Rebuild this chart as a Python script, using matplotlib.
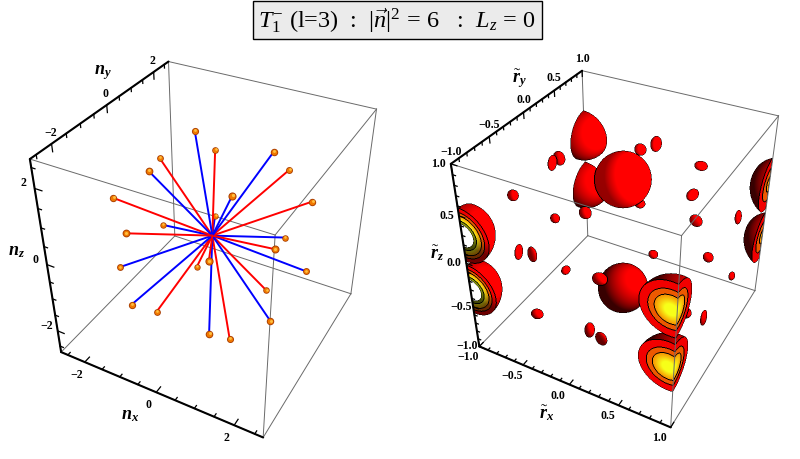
import numpy as np, matplotlib
matplotlib.use('Agg')
import matplotlib.pyplot as plt
from matplotlib.patches import Rectangle
plt.rcParams.update({'font.family':'Liberation Serif','mathtext.fontset':'custom','mathtext.rm':'Liberation Serif',
 'mathtext.it':'Liberation Serif:italic','mathtext.bf':'Liberation Serif:bold','mathtext.bfit':'Liberation Serif:italic:bold'})

# ---- left panel data: momentum vectors
nx=[1,1,-1,-1, 2,2,-2,-2,1,1,-1,-1, 2,2,-2,-2,1,1,-1,-1, 1,1,-1,-1]
ny=[1,-1,1,-1, 1,-1,1,-1,2,-2,2,-2, 1,-1,1,-1,2,-2,2,-2, 1,-1,1,-1]
nz=[2,2,2,2, 1,1,1,1,1,1,1,1, -1,-1,-1,-1,-1,-1,-1,-1, -2,-2,-2,-2]
ray_colors=['blue']*4+['red']*8+['blue']*8+['red']*4
# ---- right panel data: lobes (centre, semi-axes)
cx=[-.65,-.65,-.21,.05,.53,.55,.11,-.71,-.52,-.32,.65,.87,.73,.87,.31,-.71,-.64,-.43,.09,-.53,.02,.15,.85,.76,
    -1,-1,.95,.95,-1,-1,1.14,1.14,0,0]
cy=[-.11,0,.73,.53,.45,.25,.11,-.63,-.31,-.12,.12,.59,.28,.59,0,-.63,-.53,-.32,-.58,-.68,-.66,-.68,-.03,-.24,
    -1,-1,-1,-1,1,1,1,1,0,0]
cz=[.64,.63,.47,.70,.65,.47,.32,.58,.21,.22,.31,.13,-.17,-.56,-.10,-.02,-.09,-.34,-.05,-.64,-.61,-.64,-.61,-.42,
    .3,-.3,.3,-.3,.3,-.3,.3,-.3,.60,-.62]
ax_=[.03,.06,.06,.05,.06,.05,.05,.05,.045,.06,.06,.03,.05,.03,.045,.025,.05,.04,.07,.06,.045,.06,.025,.05,
    .28,.28,.27,.27,.27,.27,.31,.31,.247,.24]
ay_=[.06,.04,.05,.06,.05,.075,.045,.045,.04,.05,.03,.04,.04,.04,.04,.055,.025,.05,.055,.05,.05,.025,.055,.045,
    .28,.28,.27,.27,.27,.27,.31,.31,.247,.24]
az_=[.075,.07,.06,.075,.04,.045,.04,.05,.045,.06,.06,.075,.05,.045,.04,.08,.085,.04,.055,.045,.08,.075,.085,.05,
    .28,.28,.27,.27,.27,.27,.31,.31,.247,.24]
hollow=[0]*24+[.42,.42]+[0]*8
lift=[.25]*24+[0,0,-.3,-.3,0,0,-.1,-.1,.3,0]
blobs=np.c_[cx,cy,cz,ax_,ay_,az_,hollow,lift].astype(float)

CUBE=np.array([[-1,-1,1],[1,-1,1],[-1,1,1],[1,1,1],[-1,-1,-1],[1,-1,-1],[-1,1,-1],[1,1,-1]],float)
PIX_L=np.array([[30,160],[275,236],[168.3,62.7],[376.7,110],[61,353.3],[263.3,438.3],[175,236.7],[350.7,295]])
PIX_R=np.array([[450.7,165],[681.7,236.7],[582.3,71.7],[778.3,116.7],[479.3,347.3],[670.7,428.3],[587.7,236.7],[755,291.7]])
R_L=2.7; R_R=1.0
def camera(c,p):
    A=[]
    for (x,y,z),(u,v) in zip(c,p):
        A.append([x,y,z,1,0,0,0,0,-u*x,-u*y,-u*z,-u]); A.append([0,0,0,0,x,y,z,1,-v*x,-v*y,-v*z,-v])
    P=np.linalg.svd(np.array(A))[2][-1].reshape(3,4)
    if P[2]@np.array([0,0,0,1])<0: P=-P
    return P
PL=camera(CUBE*R_L,PIX_L); PR=camera(CUBE*R_R,PIX_R)
def proj(P,q):
    q=np.atleast_2d(np.asarray(q,float)); h=np.c_[q,np.ones(len(q))]@P.T
    return h[:,0]/h[:,2],h[:,1]/h[:,2],h[:,2]
Mi=np.linalg.inv(PR[:,:3]); O=-Mi@PR[:,3]
def ray(u,v):
    D=np.stack([u,v,np.ones_like(u)],-1)@Mi.T
    D=D/np.linalg.norm(D,axis=-1,keepdims=True)
    if D.reshape(-1,3).mean(0)@(-O)<0: D=-D
    with np.errstate(divide='ignore',invalid='ignore'):
        t1=(-1-O)/D; t2=(1-O)/D
    return D,np.minimum(t1,t2).max(-1),np.maximum(t1,t2).min(-1)
# render the lobes, clipped by the box
SS=2
X0,X1,Y0,Y1=430,800,50,440
us,vs=np.meshgrid(X0+(np.arange((X1-X0)*SS)+.5)/SS,Y0+(np.arange((Y1-Y0)*SS)+.5)/SS)
D,tn,tf=ray(us,vs)
best=np.full(us.shape,np.inf);bi=np.full(us.shape,-1);bc=np.zeros(us.shape,bool)
inbox=tf>tn
for i,b in enumerate(blobs):
    c=b[:3];r=b[3:6]
    pc=(O-c)/r;d=D/r
    A=(d*d).sum(-1);B=(pc*d).sum(-1);C=(pc*pc).sum()-1
    disc=B*B-A*C
    sq=np.sqrt(np.maximum(disc,0))
    t0=(-B-sq)/A;t1=(-B+sq)/A
    te=np.maximum(t0,tn)
    ok=inbox&(disc>0)&(te<np.minimum(t1,tf))
    cut=t0<tn
    if b[6]>0:
        rho=np.linalg.norm(pc+d*te[...,None],axis=-1)
        ok&=~(cut&(rho<b[6]))
    up=ok&(te<best)
    best[up]=te[up];bi[up]=i;bc[up]=cut[up]
rgb=np.ones(us.shape+(3,))
hit=bi>=0
P3=O+D*np.where(hit,best,0)[...,None]
ci=blobs[np.maximum(bi,0)]
nrm=(P3-ci[...,:3])/ci[...,3:6]**2
nrm/=np.maximum(np.linalg.norm(nrm,axis=-1,keepdims=True),1e-9)
LP=np.array([2.2,-.3,1.8])
Lv=LP-P3;Lv/=np.linalg.norm(Lv,axis=-1,keepdims=True)
diff=np.clip((nrm*Lv).sum(-1),0,1)
val=np.clip(.18+.95*diff+.12*(P3[...,2]+.3)+ci[...,7],.22,1)
rgb[...,0]=val;rgb[...,1]=0;rgb[...,2]=0
h=ci[...,6]
rho=(np.linalg.norm((P3-ci[...,:3])/ci[...,3:6],axis=-1)-h)/(1-h)
fac=np.clip(.7+.9*(P3[...,2]-ci[...,2])/ci[...,5]+.6*(P3[...,0]+1),.45,1)[...,None]
cutc=np.zeros(us.shape+(3,))
inner=(h>0)&(rho<.2)
band=np.where(rho>.72,1,np.where(rho>.52,2,np.where(inner,4,3)))
cutc[band==1]=[.95,0,0];cutc[band==2]=[.93,.35,0]
g=np.clip((.52-rho)/.32,0,1)
c3=np.stack([np.full(g.shape,.97),.55+.45*g,.1*g],-1)
cutc[band==3]=c3[band==3]
cutc[band==4]=[.55,.6,.05]
cutc=cutc*fac
rgb[bc]=cutc[bc]
idn=np.where(hit,bi*5+np.where(bc,band,0),-1)
e=np.zeros(us.shape,bool)
dx=idn[:,1:]!=idn[:,:-1];dy=idn[1:,:]!=idn[:-1,:]
e[:,1:]|=dx;e[:,:-1]|=dx;e[1:,:]|=dy;e[:-1,:]|=dy
e&=hit
rgb[e]=0
alpha=hit.astype(float)
pm=np.dstack([rgb*alpha[...,None],alpha])
H,W=pm.shape[:2]
pm=pm.reshape(H//SS,SS,W//SS,SS,4).mean((1,3))
a=pm[...,3:];img=np.dstack([pm[...,:3]/np.maximum(a,1e-6),a])

fig=plt.figure(figsize=(8,4.6),dpi=100)
ax=fig.add_axes([0,0,1,1]);ax.axis('off')
EDGES=[(0,1),(2,3),(0,2),(1,3),(4,5),(0,4),(1,5),(3,7),(5,7)]
BACK=[(6,7),(4,6),(2,6)]
GR='#6a6a6a'
for P,R in ((PL,R_L),(PR,R_R)):
    for a_,b_ in BACK:
        x,y,_=proj(P,CUBE[[a_,b_]]*R);ax.plot(x,y,color=GR,lw=.7,zorder=1)
    for a_,b_ in EDGES:
        x,y,_=proj(P,CUBE[[a_,b_]]*R);ax.plot(x,y,color=GR,lw=.7,zorder=6)
ax.imshow(img,extent=(X0,X1,Y1,Y0),zorder=3,interpolation='nearest')
ax.set_xlim(0,800);ax.set_ylim(460,0)
pts=np.c_[nx,ny,nz].astype(float)
_,_,w=proj(PL,pts)
w0=np.median(w)
order=np.argsort(-w)
for k,i in enumerate(order):
    x,y,_=proj(PL,[[0,0,0],pts[i]])
    ax.plot(x,y,color=ray_colors[i],lw=1.4,zorder=10+k*.01)
    s=(w0/w[i])**2
    ax.scatter(x[1],y[1],s=26*s,color='#a83c00',zorder=10+k*.01+.002,lw=0)
    ax.scatter(x[1],y[1],s=15*s,color='#f07800',zorder=10+k*.01+.004,lw=0)
    ax.scatter(x[1]+.6,y[1]-.6,s=4*s,color='#ffc040',zorder=10+k*.01+.006,lw=0)
def axes3d(P,R,minor,major,labs,off,ml,mj):
    ends=[([-R,-R,-R],[R,-R,-R]),([-R,-R,R],[-R,R,R]),([-R,-R,-R],[-R,-R,R])]
    tdir=[np.array([0,1,0.]),np.array([0,0,-1.]),np.array([1,0,0.])]
    for d,(a_,b_) in enumerate(ends):
        x,y,_=proj(P,[a_,b_]);ax.plot(x,y,'k',lw=1.5,zorder=20,solid_capstyle='round')
        for t in minor:
            q=np.array(a_,float);q[d]=t
            L=(mj if np.isclose(np.asarray(major),t).any() else ml)*R
            x,y,_=proj(P,[q,q+tdir[d]*L]);ax.plot(x,y,'k',lw=.9,zorder=20)
        for t,lb in zip(major,labs):
            q=np.array(a_,float);q[d]=t
            x,y,_=proj(P,[q]);ax.text(x[0]+off[d][0],y[0]+off[d][1],lb,fontsize=8.5,fontweight='bold',ha='center',va='center',zorder=21)
axes3d(PL,R_L,np.arange(-2.5,2.6,.5),[-2,0,2],['\u22122','0','2'],[(-8,12),(-1,-12),(-11,-6)],.035,.07)
axes3d(PR,R_R,np.arange(-1,1.01,.1),[-1,-.5,0,.5,1],['\u22121.0','\u22120.5','0.0','0.5','1.0'],[(-11,10),(0,-13),(-12,-1)],.03,.06)
for (x,y,t) in [(130,416,r'$\mathbfit{n}_{\mathbfit{x}}$'),(103,73,r'$\mathbfit{n}_{\mathbfit{y}}$'),(17,252,r'$\mathbfit{n}_{\mathbfit{z}}$'),
 (547,413,r'$\tilde{\mathbfit{r}}_{\mathbfit{x}}$'),(519,79,r'$\tilde{\mathbfit{r}}_{\mathbfit{y}}$'),(437,253,r'$\tilde{\mathbfit{r}}_{\mathbfit{z}}$')]:
    ax.text(x,y,t,fontsize=13,ha='center',va='center',zorder=22)
ax.add_patch(Rectangle((252.5,1.5),289,38.5,fc='#ebebeb',ec='k',lw=1,zorder=30))
ax.text(397,21,r'$T_1^{-}$ (l=3)  :  $|\vec{n}|^2\,=\,6$   :  $L_z\,=\,0$',fontsize=17.5,ha='center',va='center',zorder=31)
fig.savefig('out.png',dpi=100)
